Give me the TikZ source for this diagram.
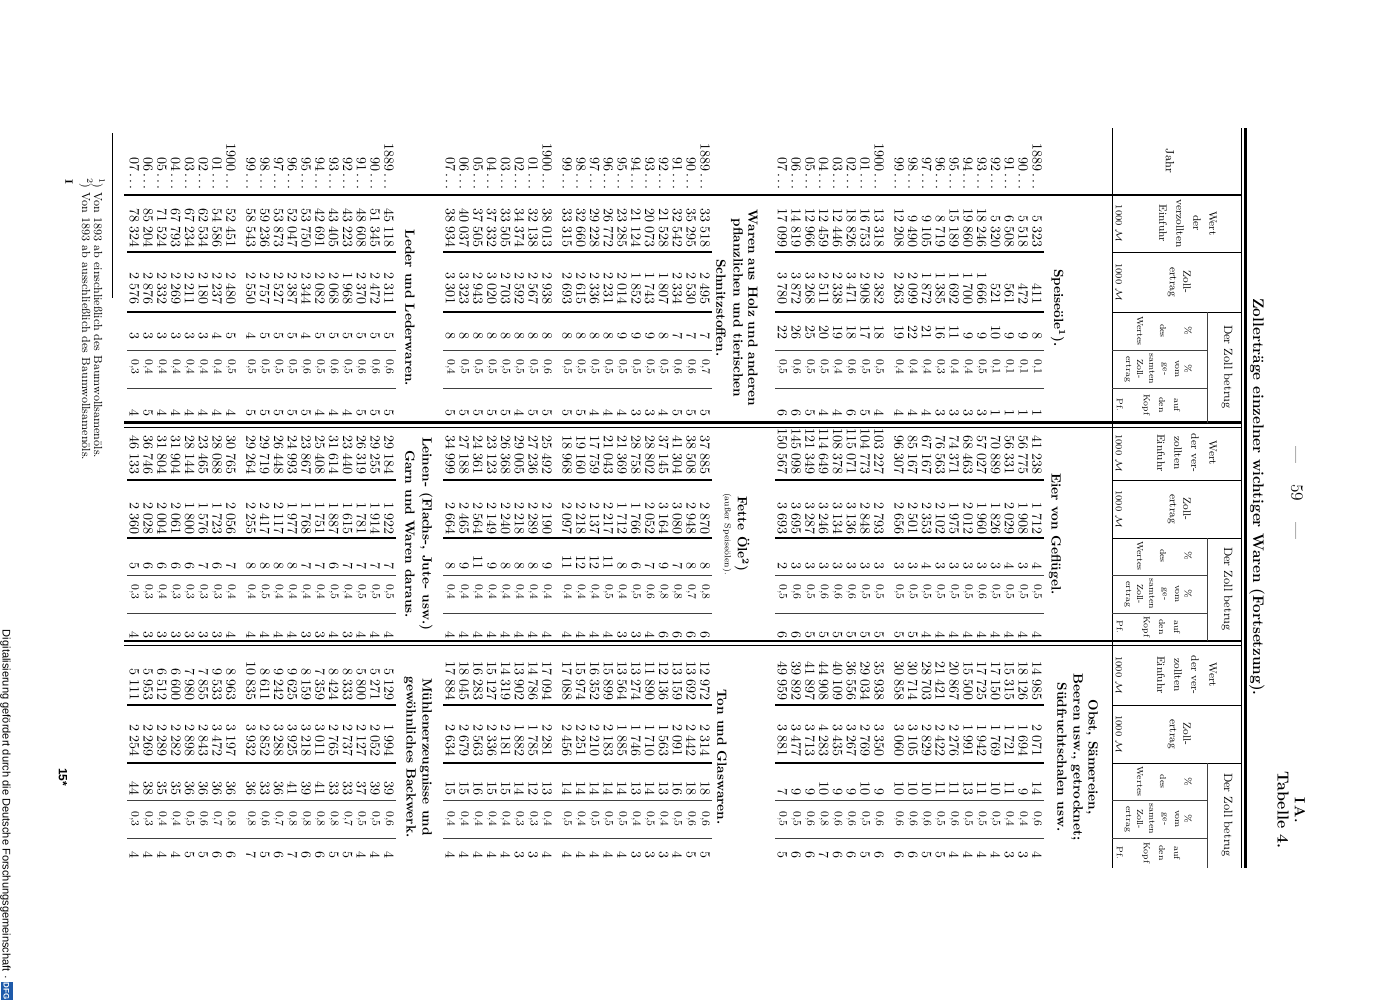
\documentclass[tikz,border=0pt]{standalone}
\usepackage{fontspec}
\newfontfamily\dfgfont{Liberation Sans}
\newcommand\tsp{\hspace{0.33em}}
\newcommand\yd{\,.\,.\,.}
\newcommand\dcol[6]{%
  \foreach \v [count=\i] in {#6}{%
    \pgfmathsetmacro\X{\i<12 ? #2-13.8*(\i-1) : #2-158-13.8*(\i-12)}%
    \node[#5,anchor=#4] (#1-\i) at (\X,#3) {\v};%
  }%
}
\newcommand\gcol[4]{%
  \foreach \v [count=\i] in {#4}{%
    \pgfmathsetmacro\X{\i<12 ? #2-13.8*(\i-1) : #2-158-13.8*(\i-12)}%
    \node[gnum] (#1-\i) at (\X,#3) {0,\v};%
  }%
}
\begin{document}
\begin{tikzpicture}[x=0.75pt,y=-0.75pt,
  num/.style={font=\fontsize{10.5}{12}\selectfont, inner sep=0pt, rotate=-90},
  gnum/.style={font=\fontsize{8.5}{10}\selectfont, inner sep=0pt, rotate=-90},
  hdr/.style={font=\fontsize{8}{9}\selectfont, inner sep=0pt, rotate=-90},
  dzb/.style={font=\fontsize{9}{10}\selectfont, inner sep=0pt, rotate=-90},
  shdr/.style={font=\fontsize{6.5}{7}\selectfont, inner sep=0pt, rotate=-90},
  pct/.style={font=\fontsize{7}{8}\selectfont, inner sep=0pt, rotate=-90},
  unit/.style={font=\fontsize{7}{8}\selectfont, inner sep=0pt, rotate=-90},
  sec/.style={font=\bfseries\fontsize{10}{12}\selectfont\addfontfeature{LetterSpace=8}, inner sep=0pt, rotate=-90},
  fnote/.style={font=\fontsize{8.8}{10}\selectfont, inner sep=0pt, rotate=-90, anchor=west},
  dthick/.style={line width=1.7pt},
  dthin/.style={line width=0.45pt, black!75},
  hrule/.style={line width=0.75pt},
  hthin/.style={line width=0.45pt, black!75}]
\useasboundingbox (0,0) rectangle (1383,1000);
\fill[white] (0,0) rectangle (1383,1000);

% ---------- top texts ----------
\node[rotate=-90, inner sep=0pt, font=\bfseries\fontsize{11.5}{14}\selectfont] (title) at (1257,497) {Zollertr\"age einzelner wichtiger Waren (Fortsetzung).};
\node[rotate=-90, inner sep=0pt, font=\fontsize{13}{15}\selectfont] (pageno) at (1297,493) {---\hspace{1.2em}59\hspace{1.2em}---};
\node[rotate=-90, inner sep=0pt, font=\bfseries\fontsize{11}{13}\selectfont] (ia) at (1300,810) {I\,A.};
\node[rotate=-90, inner sep=0pt, font=\bfseries\fontsize{12}{14}\selectfont] (tab) at (1283,810) {Tabelle 4.};

% ---------- frame rules ----------
\draw[line width=0.6pt] (1241,128) -- (1241,868);
\draw[line width=1.9pt] (1245.5,128) -- (1245.5,868);
\draw[hrule] (1112,128) -- (1112,868);
\draw[line width=1.1pt] (124,195) -- (1241,195);
\draw[line width=1.6pt] (124,422.5) -- (1241,422.5);
\draw[line width=0.6pt] (124,427) -- (1241,427);
\draw[line width=1.6pt] (124,641) -- (1241,641);
\draw[line width=0.6pt] (124,645.5) -- (1241,645.5);
\foreach \yy in {252,312,480,538,705,763}{\draw[hrule] (1112,\yy) -- (1241,\yy);}
\foreach \yy in {350,388,575,613,800,838}{\draw[hthin] (1112,\yy) -- (1207,\yy);}
\draw[hthin] (1207,312) -- (1207,422.5);
\draw[hthin] (1207,538) -- (1207,641);
\draw[hthin] (1207,763) -- (1207,868);
\foreach \s in {1037,705,389}{
  \foreach \yy in {252,312,480,538,705,763}{\draw[dthick] (\s+7,\yy) -- (\s-262,\yy);}
  \foreach \yy in {350,388,575,613,800,838}{\draw[dthin] (\s+7,\yy) -- (\s-262,\yy);}
}

% ---------- header ----------
\node[font=\fontsize{9}{10}\selectfont, inner sep=0pt, rotate=-90] (jahr) at (1170,161) {Jahr};
% block 1
\node[hdr] (h1w1) at (1213,223.5) {Wert};
\node[hdr] (h1w2) at (1197,223.5) {der};
\node[hdr] (h1w3) at (1180,223.5) {verzollten};
\node[hdr] (h1w4) at (1163,223.5) {Einfuhr};
\node[unit] (h1w5) at (1119,223.5) {1000 $\mathcal{M}$};
\node[hdr] (h1z1) at (1187,282) {Zoll-};
\node[hdr] (h1z2) at (1172,282) {ertrag};
\node[unit] (h1z3) at (1119,282) {1000 $\mathcal{M}$};
\node[dzb] (h1d) at (1227,367) {Der Zoll betrug};
\node[pct] (h1p1) at (1188,331) {\%};
\node[shdr] (h1p2) at (1163,331) {des};
\node[shdr] (h1p3) at (1140,331) {Wertes};
\node[pct] (h1g1) at (1188,369) {\%};
\node[shdr] (h1g2) at (1177,369) {vom};
\node[shdr] (h1g3) at (1164,369) {ge-};
\node[shdr] (h1g4) at (1152,369) {samten};
\node[shdr] (h1g5) at (1140,369) {Zoll-};
\node[shdr] (h1g6) at (1128,369) {ertrag};
\node[shdr] (h1k1) at (1177,405) {auf};
\node[shdr] (h1k2) at (1162,405) {den};
\node[shdr] (h1k3) at (1146,405) {Kopf};
\node[shdr] (h1k4) at (1120,405) {Pf.};
% block 2
\node[hdr] (h2w1) at (1213,453) {Wert};
\node[hdr] (h2w2) at (1195,453) {der ver-};
\node[hdr] (h2w3) at (1178,453) {zollten};
\node[hdr] (h2w4) at (1161,453) {Einfuhr};
\node[unit] (h2w5) at (1119,453) {1000 $\mathcal{M}$};
\node[hdr] (h2z1) at (1187,509) {Zoll-};
\node[hdr] (h2z2) at (1172,509) {ertrag};
\node[unit] (h2z3) at (1119,509) {1000 $\mathcal{M}$};
\node[dzb] (h2d) at (1227,589) {Der Zoll betrug};
\node[pct] (h2p1) at (1188,556) {\%};
\node[shdr] (h2p2) at (1163,556) {des};
\node[shdr] (h2p3) at (1140,556) {Wertes};
\node[pct] (h2g1) at (1188,594) {\%};
\node[shdr] (h2g2) at (1177,594) {vom};
\node[shdr] (h2g3) at (1164,594) {ge-};
\node[shdr] (h2g4) at (1152,594) {samten};
\node[shdr] (h2g5) at (1140,594) {Zoll-};
\node[shdr] (h2g6) at (1128,594) {ertrag};
\node[shdr] (h2k1) at (1177,627) {auf};
\node[shdr] (h2k2) at (1162,627) {den};
\node[shdr] (h2k3) at (1146,627) {Kopf};
\node[shdr] (h2k4) at (1120,627) {Pf.};
% block 3
\node[hdr] (h3w1) at (1213,675) {Wert};
\node[hdr] (h3w2) at (1195,675) {der ver-};
\node[hdr] (h3w3) at (1178,675) {zollten};
\node[hdr] (h3w4) at (1161,675) {Einfuhr};
\node[unit] (h3w5) at (1119,675) {1000 $\mathcal{M}$};
\node[hdr] (h3z1) at (1187,734) {Zoll-};
\node[hdr] (h3z2) at (1172,734) {ertrag};
\node[unit] (h3z3) at (1119,734) {1000 $\mathcal{M}$};
\node[dzb] (h3d) at (1227,815) {Der Zoll betrug};
\node[pct] (h3p1) at (1188,781.5) {\%};
\node[shdr] (h3p2) at (1163,781.5) {des};
\node[shdr] (h3p3) at (1140,781.5) {Wertes};
\node[pct] (h3g1) at (1188,819) {\%};
\node[shdr] (h3g2) at (1177,819) {vom};
\node[shdr] (h3g3) at (1164,819) {ge-};
\node[shdr] (h3g4) at (1152,819) {samten};
\node[shdr] (h3g5) at (1140,819) {Zoll-};
\node[shdr] (h3g6) at (1128,819) {ertrag};
\node[shdr] (h3k1) at (1177,853) {auf};
\node[shdr] (h3k2) at (1162,853) {den};
\node[shdr] (h3k3) at (1146,853) {Kopf};
\node[shdr] (h3k4) at (1120,853) {Pf.};

% ---------- section labels ----------
\node[sec] (l11) at (1058,308) {Speise\"ole\textsuperscript{1}).};
\node[sec] (l21) at (1055,534) {Eier von Gefl\"ugel.};
\node[sec] (l31a) at (1092,757) {Obst, S\"amereien,};
\node[sec] (l31b) at (1077,757) {Beeren usw., getrocknet;};
\node[sec] (l31c) at (1062,757) {S\"udfruchtschalen usw.};
\node[sec] (l12a) at (753,308) {Waren aus Holz und anderen};
\node[sec] (l12b) at (737,308) {pflanzlichen und tierischen};
\node[sec] (l12c) at (721,308) {Schnitzstoffen.};
\node[sec] (l22a) at (742,534) {Fette \"Ole\textsuperscript{2})};
\node[shdr] (l22b) at (727,534) {(au\ss er Speise\"olen).};
\node[sec] (l32) at (722,757) {Ton und Glaswaren.};
\node[sec] (l13) at (410,308) {Leder und Lederwaren.};
\node[sec] (l23a) at (426,534) {Leinen- (Flachs-, Jute- usw.)};
\node[sec] (l23b) at (410,534) {Garn und Waren daraus.};
\node[sec] (l33a) at (426,757) {M\"uhlenerzeugnisse und};
\node[sec] (l33b) at (410,757) {gew\"ohnliches Backwerk.};

% ---------- years ----------
\dcol{ya}{1037}{190}{east}{num}{1889\yd,90\yd,91\yd,92\yd,93\yd,94\yd,95\yd,96\yd,97\yd,98\yd,99\yd,1900\yd,01\yd,02\yd,03\yd,04\yd,05\yd,06\yd,07\yd}
\dcol{yb}{705}{190}{east}{num}{1889\yd,90\yd,91\yd,92\yd,93\yd,94\yd,95\yd,96\yd,97\yd,98\yd,99\yd,1900\yd,01\yd,02\yd,03\yd,04\yd,05\yd,06\yd,07\yd}
\dcol{yc}{389}{190}{east}{num}{1889\yd,90\yd,91\yd,92\yd,93\yd,94\yd,95\yd,96\yd,97\yd,98\yd,99\yd,1900\yd,01\yd,02\yd,03\yd,04\yd,05\yd,06\yd,07\yd}

% ---------- section 1 ----------
\dcol{w11}{1037}{248}{east}{num}{5\tsp323,5\tsp518,6\tsp508,5\tsp320,18\tsp246,19\tsp860,15\tsp189,8\tsp719,9\tsp105,9\tsp490,12\tsp208,13\tsp318,16\tsp753,18\tsp826,12\tsp446,12\tsp459,12\tsp966,14\tsp819,17\tsp099}
\dcol{z11}{1037}{305}{east}{num}{411,472,561,521,1\tsp666,1\tsp700,1\tsp692,1\tsp385,1\tsp872,2\tsp099,2\tsp263,2\tsp382,2\tsp908,3\tsp471,2\tsp338,2\tsp511,3\tsp268,3\tsp872,3\tsp780}
\dcol{p11}{1037}{340}{east}{num}{8,9,9,10,9,9,11,16,21,22,19,18,17,18,19,20,25,26,22}
\gcol{g11}{1037}{367}{1,1,1,1,5,4,4,3,4,4,4,5,5,6,4,5,5,6,5}
\dcol{k11}{1037}{417}{east}{num}{1,1,1,1,3,3,3,3,4,4,4,4,5,6,4,4,5,6,6}
\dcol{w21}{1037}{475}{east}{num}{41\tsp238,56\tsp775,56\tsp331,70\tsp889,57\tsp027,68\tsp463,74\tsp371,76\tsp563,67\tsp167,85\tsp167,96\tsp307,103\tsp227,104\tsp773,115\tsp071,108\tsp378,114\tsp649,121\tsp349,145\tsp098,150\tsp567}
\dcol{z21}{1037}{535}{east}{num}{1\tsp712,1\tsp908,2\tsp029,1\tsp826,1\tsp960,2\tsp012,1\tsp975,2\tsp102,2\tsp353,2\tsp501,2\tsp656,2\tsp793,2\tsp848,3\tsp136,3\tsp134,3\tsp246,3\tsp287,3\tsp695,3\tsp693}
\dcol{p21}{1037}{570}{east}{num}{4,3,4,3,3,3,3,3,4,3,3,3,3,3,3,3,3,3,2}
\gcol{g21}{1037}{592}{5,5,5,5,6,5,5,5,5,5,5,5,5,6,6,6,5,6,5}
\dcol{k21}{1037}{639}{east}{num}{4,4,4,4,4,4,4,4,4,5,5,5,5,5,5,5,5,6,6}
\dcol{w31}{1037}{701}{east}{num}{14\tsp985,18\tsp126,15\tsp315,17\tsp150,17\tsp725,15\tsp500,20\tsp867,21\tsp421,28\tsp703,30\tsp714,30\tsp858,35\tsp938,29\tsp034,36\tsp556,40\tsp109,44\tsp908,41\tsp897,39\tsp892,49\tsp959}
\dcol{z31}{1037}{757}{east}{num}{2\tsp071,1\tsp694,1\tsp721,1\tsp769,1\tsp942,1\tsp991,2\tsp276,2\tsp422,2\tsp829,3\tsp105,3\tsp060,3\tsp350,2\tsp769,3\tsp267,3\tsp435,4\tsp283,3\tsp713,3\tsp477,3\tsp881}
\dcol{p31}{1037}{796}{east}{num}{14,9,11,10,11,13,11,11,10,10,10,9,10,9,9,10,9,9,7}
\gcol{g31}{1037}{819}{6,4,4,5,5,5,6,5,6,6,6,6,5,6,6,8,6,5,5}
\dcol{k31}{1037}{859}{east}{num}{4,3,3,4,4,4,4,5,5,6,6,6,5,6,6,7,6,6,5}

% ---------- section 2 ----------
\dcol{w12}{705}{248}{east}{num}{33\tsp518,35\tsp295,32\tsp542,21\tsp528,20\tsp073,21\tsp124,23\tsp285,26\tsp772,29\tsp228,32\tsp660,33\tsp315,38\tsp013,32\tsp138,34\tsp374,33\tsp505,37\tsp332,37\tsp505,40\tsp037,38\tsp934}
\dcol{z12}{705}{305}{east}{num}{2\tsp495,2\tsp530,2\tsp334,1\tsp807,1\tsp743,1\tsp852,2\tsp014,2\tsp231,2\tsp336,2\tsp615,2\tsp693,2\tsp938,2\tsp567,2\tsp592,2\tsp703,3\tsp020,2\tsp943,3\tsp323,3\tsp301}
\dcol{p12}{705}{340}{east}{num}{7,7,7,8,9,9,9,8,8,8,8,8,8,8,8,8,8,8,8}
\gcol{g12}{705}{367}{7,6,6,5,5,5,5,5,5,5,5,6,5,5,5,5,5,5,4}
\dcol{k12}{705}{417}{east}{num}{5,5,5,4,3,3,4,4,4,5,5,5,5,4,5,5,5,5,5}
\dcol{w22}{705}{475}{east}{num}{37\tsp885,38\tsp508,41\tsp304,37\tsp145,28\tsp802,28\tsp758,21\tsp369,21\tsp043,17\tsp759,19\tsp160,18\tsp968,25\tsp492,27\tsp236,29\tsp005,26\tsp368,23\tsp123,24\tsp361,27\tsp188,34\tsp999}
\dcol{z22}{705}{535}{east}{num}{2\tsp870,2\tsp948,3\tsp080,3\tsp164,2\tsp052,1\tsp766,1\tsp712,2\tsp217,2\tsp137,2\tsp218,2\tsp097,2\tsp190,2\tsp289,2\tsp218,2\tsp240,2\tsp149,2\tsp564,2\tsp465,2\tsp664}
\dcol{p22}{705}{570}{east}{num}{8,8,7,9,7,6,8,11,12,12,11,9,8,8,8,9,11,9,8}
\gcol{g22}{705}{592}{8,7,8,8,6,5,4,5,4,4,4,4,4,4,4,4,4,4,4}
\dcol{k22}{705}{639}{east}{num}{6,6,6,6,4,3,3,4,4,4,4,4,4,4,4,4,4,4,4}
\dcol{w32}{705}{701}{east}{num}{12\tsp972,13\tsp692,13\tsp159,12\tsp136,11\tsp890,13\tsp274,13\tsp564,15\tsp899,16\tsp352,15\tsp974,17\tsp088,17\tsp094,14\tsp786,13\tsp902,14\tsp319,15\tsp127,16\tsp283,18\tsp045,17\tsp884}
\dcol{z32}{705}{757}{east}{num}{2\tsp314,2\tsp442,2\tsp091,1\tsp563,1\tsp710,1\tsp746,1\tsp885,2\tsp183,2\tsp210,2\tsp251,2\tsp456,2\tsp281,1\tsp785,1\tsp882,2\tsp181,2\tsp336,2\tsp563,2\tsp679,2\tsp634}
\dcol{p32}{705}{796}{east}{num}{18,18,16,13,14,13,14,14,14,14,14,13,12,14,15,15,16,15,15}
\gcol{g32}{705}{819}{6,6,5,4,5,4,5,5,5,4,5,4,3,3,4,4,4,4,4}
\dcol{k32}{705}{859}{east}{num}{5,5,4,3,3,3,4,4,4,4,4,4,3,3,4,4,4,4,4}

% ---------- section 3 ----------
\dcol{w13}{389}{248}{east}{num}{45\tsp118,51\tsp345,48\tsp608,43\tsp223,43\tsp405,42\tsp691,53\tsp750,52\tsp047,53\tsp873,59\tsp236,58\tsp543,52\tsp451,54\tsp586,62\tsp534,67\tsp234,67\tsp793,71\tsp524,85\tsp204,78\tsp324}
\dcol{z13}{389}{305}{east}{num}{2\tsp311,2\tsp472,2\tsp370,1\tsp968,2\tsp068,2\tsp082,2\tsp344,2\tsp387,2\tsp527,2\tsp757,2\tsp550,2\tsp480,2\tsp237,2\tsp180,2\tsp211,2\tsp269,2\tsp332,2\tsp876,2\tsp576}
\dcol{p13}{389}{340}{east}{num}{5,5,5,5,5,5,4,5,5,5,4,5,4,3,3,3,3,3,3}
\gcol{g13}{389}{367}{6,6,6,5,6,5,6,5,5,5,5,5,4,4,4,4,4,4,3}
\dcol{k13}{389}{417}{east}{num}{5,5,5,4,4,4,5,5,5,5,5,4,4,4,4,4,4,5,4}
\dcol{w23}{389}{475}{east}{num}{29\tsp184,29\tsp255,26\tsp319,23\tsp440,31\tsp614,25\tsp408,23\tsp867,24\tsp993,26\tsp448,29\tsp719,29\tsp264,30\tsp765,28\tsp088,23\tsp465,28\tsp144,31\tsp904,31\tsp804,36\tsp746,46\tsp133}
\dcol{z23}{389}{535}{east}{num}{1\tsp922,1\tsp914,1\tsp781,1\tsp615,1\tsp887,1\tsp751,1\tsp768,1\tsp977,2\tsp117,2\tsp417,2\tsp255,2\tsp056,1\tsp723,1\tsp576,1\tsp800,2\tsp061,2\tsp004,2\tsp028,2\tsp360}
\dcol{p23}{389}{570}{east}{num}{7,7,7,7,6,7,7,8,8,8,8,7,6,7,6,6,6,6,5}
\gcol{g23}{389}{592}{5,5,5,4,5,4,4,4,4,5,4,4,3,3,3,3,4,3,3}
\dcol{k23}{389}{639}{east}{num}{4,4,4,3,4,3,3,4,4,4,4,4,3,3,3,3,3,3,4}
\dcol{w33}{389}{701}{east}{num}{5\tsp129,5\tsp271,5\tsp800,8\tsp333,8\tsp424,7\tsp359,8\tsp159,9\tsp625,9\tsp242,8\tsp611,10\tsp835,8\tsp963,9\tsp533,7\tsp855,7\tsp980,6\tsp600,6\tsp512,5\tsp953,5\tsp111}
\dcol{z33}{389}{757}{east}{num}{1\tsp994,2\tsp052,2\tsp127,2\tsp737,2\tsp765,3\tsp011,3\tsp218,3\tsp925,3\tsp288,2\tsp852,3\tsp932,3\tsp197,3\tsp472,2\tsp843,2\tsp898,2\tsp282,2\tsp289,2\tsp269,2\tsp254}
\dcol{p33}{389}{796}{east}{num}{39,39,37,33,33,41,39,41,36,33,36,36,36,36,36,35,35,38,44}
\gcol{g33}{389}{819}{6,5,5,7,8,8,8,8,7,6,8,8,7,6,5,4,4,3,3}
\dcol{k33}{389}{859}{east}{num}{4,4,4,5,5,6,6,7,6,5,7,6,6,5,5,4,4,4,4}

% ---------- footnotes ----------
\draw[line width=0.5pt] (112,133) -- (112,298);
\node[fnote] (fn1) at (98,178) {\textsuperscript{1}) Von 1893 ab einschlie\ss lich des Baumwollsamen\"ols.};
\node[fnote] (fn2) at (86,178) {\textsuperscript{2}) Von 1893 ab ausschlie\ss lich des Baumwollsamen\"ols.};
\node[rotate=-90, anchor=west, inner sep=0pt, font=\bfseries\fontsize{8}{9}\selectfont] (sig) at (69,179) {I};
\node[rotate=-90, inner sep=0pt, font=\dfgfont\bfseries\fontsize{9}{10}\selectfont] (sig2) at (63,777) {15*};

% ---------- digitisation note ----------
\node[rotate=-90, anchor=east, inner sep=0pt, font=\dfgfont\fontsize{8.3}{10}\selectfont] (dfgtxt) at (5.5,979) {Digitalisierung gefördert durch die Deutsche Forschungsgemeinschaft ·};
\node[rotate=-90, fill={rgb,255:red,30;green,90;blue,170}, text=white, inner sep=0.6pt, minimum width=17pt*0.75, minimum height=12pt*0.75, font=\dfgfont\bfseries\fontsize{6}{7}\selectfont] (dfglogo) at (6.5,991) {DFG};
\end{tikzpicture}
\end{document}
